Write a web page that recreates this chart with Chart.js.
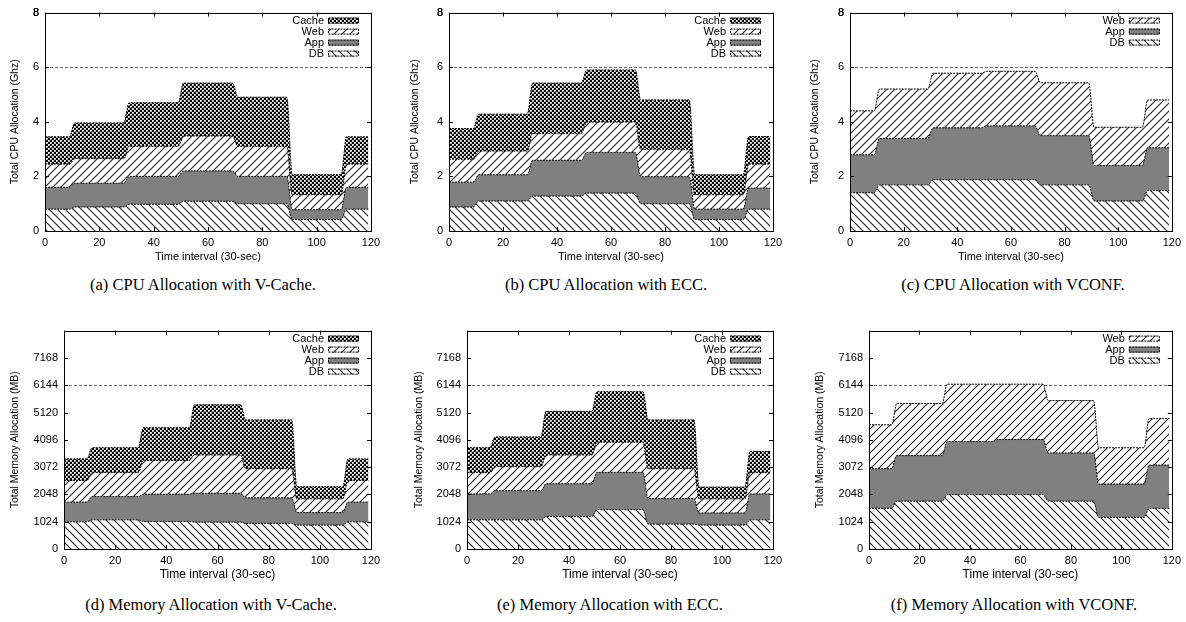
<!DOCTYPE html>
<html>
<head>
<meta charset="utf-8">
<script src="https://cdn.jsdelivr.net/npm/chart.js@4.4.1/dist/chart.umd.min.js"></script>
<style>
    body { margin: 0; width: 1186px; height: 622px; background: #fff; position: relative; overflow: hidden; }
    canvas { position: absolute; }
    .caption { position: absolute; font-family: "Liberation Serif", serif; font-size: 16.5px; white-space: nowrap; transform: translate(-50%, -50%); }
</style>
</head>
<body>
<canvas id="cpuVCache" width="400" height="270" style="left:0;top:0"></canvas>
<canvas id="cpuEcc" width="400" height="270" style="left:400px;top:0"></canvas>
<canvas id="cpuVconf" width="386" height="270" style="left:800px;top:0"></canvas>
<canvas id="memVCache" width="400" height="270" style="left:0;top:318px"></canvas>
<canvas id="memEcc" width="400" height="270" style="left:404px;top:318px"></canvas>
<canvas id="memVconf" width="381" height="270" style="left:805px;top:318px"></canvas>
<div class="caption" style="left:203px;top:285px">(a) CPU Allocation with V-Cache.</div>
<div class="caption" style="left:606px;top:285px">(b) CPU Allocation with ECC.</div>
<div class="caption" style="left:1013px;top:285px">(c) CPU Allocation with VCONF.</div>
<div class="caption" style="left:211px;top:605px">(d) Memory Allocation with V-Cache.</div>
<div class="caption" style="left:610px;top:605px">(e) Memory Allocation with ECC.</div>
<div class="caption" style="left:1014px;top:605px">(f) Memory Allocation with VCONF.</div>
<script>
// plateaus of the workload (30-sec intervals)
const segStart = [0, 11, 31, 51, 71, 91, 111];
const segEnd = [9, 29, 49, 69, 89, 109, 119];

const timeTicks = [0, 20, 40, 60, 80, 100, 120];
const cpuTicks = [0, 2, 4, 6, 8];
const memTicks = [0, 1024, 2048, 3072, 4096, 5120, 6144, 7168];
const cpuCapacity = 6;
const memCapacity = 6144;

// CPU (Ghz) per tier
const cpuVCacheDB = [0.80, 0.88, 0.98, 1.09, 1.00, 0.42, 0.80];
const cpuVCacheApp = [0.80, 0.87, 1.02, 1.11, 1.00, 0.36, 0.80];
const cpuVCacheWeb = [0.85, 0.90, 1.10, 1.28, 1.10, 0.55, 0.85];
const cpuVCacheCache = [1.00, 1.31, 1.60, 1.94, 1.80, 0.73, 1.00];

const cpuEccDB = [0.88, 1.10, 1.28, 1.39, 1.00, 0.42, 0.80];
const cpuEccApp = [0.91, 0.96, 1.31, 1.49, 0.99, 0.38, 0.77];
const cpuEccWeb = [0.84, 0.87, 0.98, 1.11, 1.00, 0.53, 0.88];
const cpuEccCache = [1.12, 1.35, 1.85, 1.91, 1.81, 0.73, 1.01];

const cpuVconfDB = [1.40, 1.69, 1.88, 1.88, 1.69, 1.10, 1.48];
const cpuVconfApp = [1.39, 1.70, 1.90, 1.97, 1.80, 1.30, 1.57];
const cpuVconfWeb = [1.61, 1.81, 2.00, 2.00, 1.94, 1.40, 1.75];

// Memory (MB) per tier
const memVCacheDB = [1020, 1094, 1033, 1008, 959, 897, 1020];
const memVCacheApp = [738, 873, 1020, 1082, 959, 468, 738];
const memVCacheWeb = [811, 897, 1266, 1438, 1094, 516, 811];
const memVCacheCache = [811, 934, 1229, 1881, 1831, 455, 811];

const memEccDB = [1094, 1094, 1217, 1475, 934, 897, 1094];
const memEccApp = [971, 1094, 1229, 1401, 959, 455, 971];
const memEccWeb = [799, 897, 1082, 1131, 1119, 529, 799];
const memEccCache = [934, 1119, 1635, 1894, 1831, 442, 799];

const memVconfDB = [1524, 1795, 2041, 2041, 1795, 1180, 1524];
const memVconfApp = [1488, 1709, 1991, 2065, 1807, 1254, 1623];
const memVconfWeb = [1647, 1954, 2151, 2077, 1967, 1364, 1745];

const FONT = 'Liberation Sans';

function hatch(forward) {
    const c = document.createElement('canvas');
    c.width = 8;
    c.height = 8;
    const g = c.getContext('2d');
    g.fillStyle = '#fff';
    g.fillRect(0, 0, 8, 8);
    g.strokeStyle = '#222';
    g.lineWidth = 1.1;
    g.beginPath();
    if (forward) {
        g.moveTo(0, 8); g.lineTo(8, 0);
        g.moveTo(-4, 4); g.lineTo(4, -4);
        g.moveTo(4, 12); g.lineTo(12, 4);
    } else {
        g.moveTo(0, 0); g.lineTo(8, 8);
        g.moveTo(-4, 4); g.lineTo(4, 12);
        g.moveTo(4, -4); g.lineTo(12, 4);
    }
    g.stroke();
    return g.createPattern(c, 'repeat');
}

function checker() {
    const c = document.createElement('canvas');
    c.width = 4;
    c.height = 4;
    const g = c.getContext('2d');
    g.fillStyle = '#000';
    g.fillRect(0, 0, 4, 4);
    g.fillStyle = '#fff';
    g.fillRect(0, 0, 1.8, 1.8);
    g.fillRect(2, 2, 1.8, 1.8);
    return g.createPattern(c, 'repeat');
}

const fills = {
    DB: hatch(false),
    App: '#808080',
    Web: hatch(true),
    Cache: checker(),
};

function points(values) {
    return segStart.flatMap((s, i) => [{ x: s, y: values[i] }, { x: segEnd[i], y: values[i] }]);
}

const gnuplotFrame = {
    id: 'gnuplotFrame',
    beforeDatasetsDraw(chart, args, opts) {
        const { ctx, chartArea: { left, right }, scales: { y } } = chart;
        const yc = Math.round(y.getPixelForValue(opts.capacity)) + 0.5;
        ctx.save();
        ctx.strokeStyle = '#666';
        ctx.lineWidth = 1;
        ctx.setLineDash([3, 2]);
        ctx.beginPath();
        ctx.moveTo(left, yc);
        ctx.lineTo(right, yc);
        ctx.stroke();
        ctx.restore();
    },
    afterDraw(chart) {
        const { ctx, chartArea: { left, right, top, bottom }, scales: { x, y } } = chart;
        ctx.save();
        ctx.strokeStyle = '#000';
        ctx.lineWidth = 1;
        ctx.beginPath();
        x.ticks.forEach((t) => {
            const px = Math.round(x.getPixelForValue(t.value)) + 0.5;
            ctx.moveTo(px, bottom); ctx.lineTo(px, bottom - 4);
            ctx.moveTo(px, top); ctx.lineTo(px, top + 4);
        });
        y.ticks.forEach((t) => {
            const py = Math.round(y.getPixelForValue(t.value)) + 0.5;
            ctx.moveTo(left, py); ctx.lineTo(left + 4, py);
            ctx.moveTo(right, py); ctx.lineTo(right - 4, py);
        });
        ctx.stroke();
        ctx.strokeRect(Math.round(left) + 0.5, Math.round(top) + 0.5, Math.round(right - left), Math.round(bottom - top));

        // key, top right inside the frame
        ctx.font = `11px "${FONT}"`;
        ctx.textAlign = 'right';
        ctx.textBaseline = 'middle';
        const sets = chart.data.datasets.slice().reverse();
        sets.forEach((ds, i) => {
            const cy = top + 8 + i * 11;
            ctx.fillStyle = '#000';
            ctx.fillText(ds.label, right - 47, cy);
            ctx.fillStyle = ds.backgroundColor;
            ctx.fillRect(right - 43, cy - 3, 31, 6);
            ctx.setLineDash([2, 1]);
            ctx.strokeRect(right - 42.5, cy - 2.5, 30, 5);
            ctx.setLineDash([]);
        });
        ctx.restore();
    },
};

function drawPanel(id, tiers, opts) {
    const canvas = document.getElementById(id);
    const datasets = tiers.map(([label, values], i) => ({
        label,
        data: points(values),
        backgroundColor: fills[label],
        borderColor: '#000',
        borderWidth: 1,
        borderDash: [2, 1],
        fill: i === 0 ? 'origin' : '-1',
        pointRadius: 0,
        cubicInterpolationMode: 'monotone',
    }));

    new Chart(canvas.getContext('2d'), {
        type: 'line',
        data: { datasets },
        options: {
            responsive: false,
            animation: false,
            layout: {
                padding: { top: 10, right: canvas.width - opts.plotRight, bottom: 0, left: 0 },
            },
            plugins: {
                legend: { display: false },
                tooltip: { enabled: false },
                gnuplotFrame: { capacity: opts.capacity },
            },
            scales: {
                x: {
                    type: 'linear',
                    min: 0,
                    max: 120,
                    afterBuildTicks(scale) {
                        scale.ticks = timeTicks.map((v) => ({ value: v }));
                    },
                    afterFit(scale) {
                        scale.height = 39;
                    },
                    grid: { display: false, drawTicks: false },
                    border: { display: false },
                    ticks: { color: '#000', padding: 5, font: { family: FONT, size: 11 } },
                    title: {
                        display: true,
                        text: 'Time interval (30-sec)',
                        color: '#000',
                        padding: { top: 0, bottom: 6 },
                        font: { family: FONT, size: opts.xTitleSize },
                    },
                },
                y: {
                    stacked: true,
                    min: 0,
                    max: opts.yMax,
                    afterBuildTicks(scale) {
                        scale.ticks = opts.yTicks.concat([opts.yMax]).map((v) => ({ value: v }));
                    },
                    afterFit(scale) {
                        scale.width = opts.plotLeft;
                    },
                    grid: { display: false, drawTicks: false },
                    border: { display: false },
                    ticks: {
                        color: '#000',
                        padding: 6,
                        font: { family: FONT, size: 11 },
                        callback: (v) => (opts.yTicks.includes(v) ? String(v) : ''),
                    },
                    title: {
                        display: true,
                        text: opts.yTitle,
                        color: '#000',
                        padding: { top: 9, bottom: 0 },
                        font: { family: FONT, size: 10.5 },
                    },
                },
            },
        },
        plugins: [gnuplotFrame],
    });
}

const cpuOpts = { yMax: 8, yTicks: cpuTicks, capacity: cpuCapacity, yTitle: 'Total CPU Allocation (Ghz)', xTitleSize: 11 };
const memOpts = { yMax: 8192, yTicks: memTicks, capacity: memCapacity, yTitle: 'Total Memory Allocation (MB)', xTitleSize: 12 };

drawPanel('cpuVCache', [['DB', cpuVCacheDB], ['App', cpuVCacheApp], ['Web', cpuVCacheWeb], ['Cache', cpuVCacheCache]],
    { ...cpuOpts, plotLeft: 45, plotRight: 371 });
drawPanel('cpuEcc', [['DB', cpuEccDB], ['App', cpuEccApp], ['Web', cpuEccWeb], ['Cache', cpuEccCache]],
    { ...cpuOpts, plotLeft: 49, plotRight: 373 });
drawPanel('cpuVconf', [['DB', cpuVconfDB], ['App', cpuVconfApp], ['Web', cpuVconfWeb]],
    { ...cpuOpts, plotLeft: 50, plotRight: 376 });
drawPanel('memVCache', [['DB', memVCacheDB], ['App', memVCacheApp], ['Web', memVCacheWeb], ['Cache', memVCacheCache]],
    { ...memOpts, plotLeft: 64, plotRight: 371 });
drawPanel('memEcc', [['DB', memEccDB], ['App', memEccApp], ['Web', memEccWeb], ['Cache', memEccCache]],
    { ...memOpts, plotLeft: 63, plotRight: 369 });
drawPanel('memVconf', [['DB', memVconfDB], ['App', memVconfApp], ['Web', memVconfWeb]],
    { ...memOpts, plotLeft: 64, plotRight: 371 });
</script>
</body>
</html>
